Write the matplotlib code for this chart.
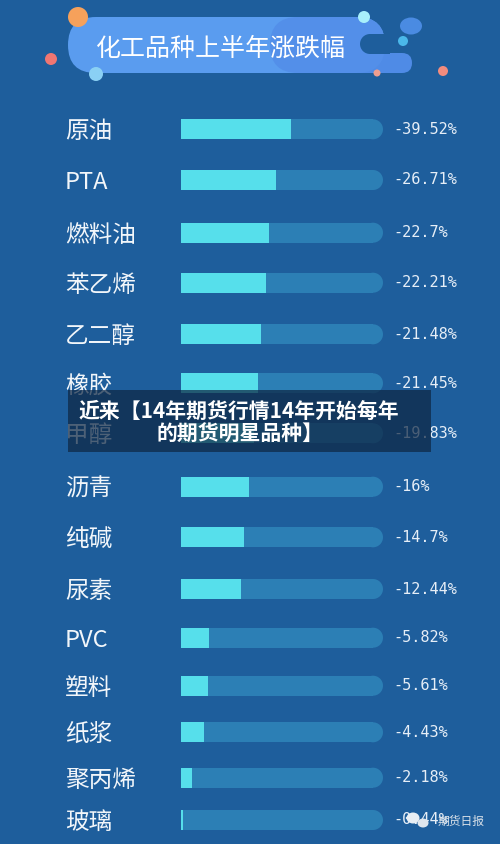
import matplotlib.pyplot as plt
from matplotlib.patches import Circle, Ellipse, FancyBboxPatch, Rectangle

plt.rcParams['font.family'] = ['Noto Sans CJK SC', 'DejaVu Sans']

title = "化工品种上半年涨跌幅"
categories = ["原油", "PTA", "燃料油", "苯乙烯", "乙二醇", "橡胶", "甲醇", "沥青",
              "纯碱", "尿素", "PVC", "塑料", "纸浆", "聚丙烯", "玻璃"]
value_labels = ["-39.52%", "-26.71%", "-22.7%", "-22.21%", "-21.48%", "-21.45%", "-19.83%",
                "-16%", "-14.7%", "-12.44%", "-5.82%", "-5.61%", "-4.43%", "-2.18%", "-0.44%"]
# filled share of each track (percent of track length)
fill = [54.5, 47.0, 43.4, 42.2, 39.8, 38.3, 36.0, 33.5, 31.0, 29.7, 13.7, 13.2, 11.2, 5.6, 1.2]
overlay_lines = ["近来【14年期货行情14年开始每年", "的期货明星品种】"]

bg = "#1e5e9c"
track_col = "#2c7fb5"
fill_col = "#56dfeb"

fig = plt.figure(figsize=(5, 8.44), dpi=100)
fig.patch.set_facecolor(bg)
ax = fig.add_axes([0, 0, 1, 1])
ax.set_xlim(0, 500)
ax.set_ylim(844, 0)
ax.axis("off")

# row layout in pixels
rows = [129.3, 180, 232.7, 282.7, 334.3, 383.3, 433.3, 486.7, 537.3, 589,
        637.7, 685.7, 732.3, 777.7, 820]
x0, track_w, bar_h = 181, 202, 20

# tracks with a rounded right end
ax.barh(rows, track_w - bar_h / 2, left=x0, height=bar_h, color=track_col,
        linewidth=0, zorder=2)
for y in rows:
    ax.add_patch(Circle((x0 + track_w - bar_h / 2, y), bar_h / 2, facecolor=track_col,
                        linewidth=0, zorder=2))

# filled part
ax.barh(rows, [f / 100 * track_w for f in fill], left=x0, height=bar_h,
        color=fill_col, linewidth=0, zorder=3)

for y, cat, val in zip(rows, categories, value_labels):
    ax.text(65, y, cat, fontsize=17, color="#f2f6fa", ha="left", va="center_baseline", zorder=4)
    ax.text(393, y, val, fontsize=11, color="#e6eef7", ha="left", va="center",
            family=["DejaVu Sans Mono"], zorder=4)

# title banner
ax.add_patch(FancyBboxPatch((68, 17), 317, 56, boxstyle="round,pad=0,rounding_size=28",
                            facecolor="#5a9cef", linewidth=0, zorder=1))
ax.add_patch(FancyBboxPatch((300, 53), 112, 20, boxstyle="round,pad=0,rounding_size=10",
                            facecolor="#4f8be6", linewidth=0, zorder=1))
ax.add_patch(FancyBboxPatch((270, 17), 115, 56, boxstyle="round,pad=0,rounding_size=28",
                            facecolor="#538fe9", linewidth=0, zorder=1.1))
ax.add_patch(Circle((370, 44), 10, facecolor=bg, linewidth=0, zorder=1.2))
ax.add_patch(Rectangle((370, 34), 20, 19.5, facecolor=bg, linewidth=0, zorder=1.2))
ax.text(221, 46, title, fontsize=18, color="white", ha="center", va="center_baseline", zorder=4)

# decorative dots
dots = [((78, 17), 10, "#f6a15b"), ((51, 59), 6, "#f07672"), ((96, 74), 7, "#8ad0f4"),
        ((364, 17), 6, "#a8f0fb"), ((403, 41), 5, "#4bb8ea"), ((377, 73), 3.5, "#ee9e90"),
        ((443, 71), 5, "#f28c7e")]
for c, r, col in dots:
    ax.add_patch(Circle(c, r, facecolor=col, linewidth=0, zorder=5))
ax.add_patch(Ellipse((411, 26), 22, 17, facecolor="#4a8be2", linewidth=0, zorder=5))

# dark caption overlay
ax.add_patch(Rectangle((68, 390), 363, 62, facecolor="#0e2744", alpha=0.72, linewidth=0,
                       zorder=6))
ax.text(239, 409, overlay_lines[0], fontsize=15, fontweight="bold", color="white",
        ha="center", va="center_baseline", zorder=7)
ax.text(240, 432, overlay_lines[1], fontsize=15, fontweight="bold", color="white",
        ha="center", va="center_baseline", zorder=7)

# watermark
ax.add_patch(Ellipse((413, 818), 13, 11, facecolor="#e8eef4", linewidth=0, zorder=8))
ax.add_patch(Ellipse((423, 823), 11, 9, facecolor="#dfe6ee", linewidth=0, zorder=8))
ax.text(438, 820, "期货日报", fontsize=8.5, color="#d8e0e8", ha="left", va="center_baseline",
        zorder=8)

fig.savefig("out.png", dpi=100, facecolor=bg)
